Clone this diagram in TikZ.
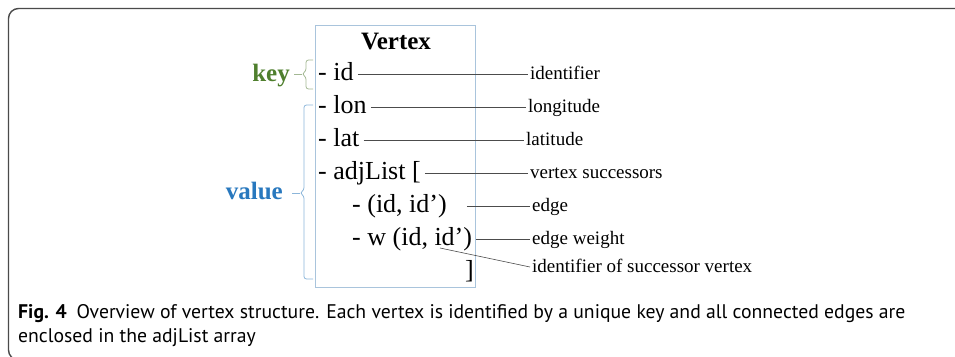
\documentclass[tikz,border=0pt]{standalone}
\usepackage{fontspec}
\setmainfont{Liberation Serif}
\newfontfamily\capfont{PT Sans}

\definecolor{framegray}{HTML}{4A4A4A}
\definecolor{boxblue}{HTML}{A9C4DC}
\definecolor{keygreen}{HTML}{4F7F2E}
\definecolor{keybrace}{HTML}{A3B893}
\definecolor{valblue}{HTML}{2878BE}
\definecolor{valbrace}{HTML}{8CB6DA}

\tikzset{
	field/.style = {anchor=base west, inner sep=0pt, text height=12pt, text depth=0pt, font=\fontsize{26}{26}\selectfont},
	note/.style = {anchor=west, inner xsep=2pt, inner ysep=0pt, text height=10pt, text depth=0pt, font=\fontsize{19}{19}\selectfont},
	pointer/.style = {black!70, line width=0.6pt, shorten <=4pt},
	tag/.style = {anchor=base east, inner sep=0pt, font=\fontsize{25}{25}\selectfont\bfseries},
}

\begin{document}
\begin{tikzpicture}[x=1pt, y=-1pt]
	\useasboundingbox (0,0) rectangle (955,356);
	
	% outer frame, open on the right and at the bottom
	\draw[framegray, line width=1.4pt, rounded corners=10pt] (965,8.5) -- (8.5,8.5) -- (8.5,360) -- (40,360);
	
	% the record box
	\draw[boxblue, line width=0.8pt] (315,25) rectangle (475,287);
	\node[anchor=base, inner sep=0pt, font=\fontsize{25}{25}\selectfont\bfseries] (title) at (396,49) {Vertex};
	
	\node[field] (id)   at (318,80)  {- id};
	\node[field] (lon)  at (318,113) {- lon};
	\node[field] (lat)  at (318,146) {- lat};
	\node[field] (adj)  at (318,179) {- adjList [};
	\node[field] (edge) at (352,212) {- (id, id')};
	\node[field] (wt)   at (352,245) {- w (id, id')};
	\node[field] (close) at (465,278) {]};
	\coordinate (succ) at (440,248);
	
	% descriptions on the right
	\node[note] (identifier) at (528,74)  {identifier};
	\node[note] (longitude)  at (526,107) {longitude};
	\node[note] (latitude)   at (524,140) {latitude};
	\node[note] (successors) at (528,173) {vertex successors};
	\node[note] (edgenote)   at (530,206) {edge};
	\node[note] (weight)     at (530,239) {edge weight};
	\node[note] (succnote)   at (530,267) {identifier of successor vertex};
	
	\draw[pointer] (id.east) -- (identifier.west);
	\draw[pointer] (lon.east) -- (longitude.west);
	\draw[pointer] (lat.east) -- (latitude.west);
	\draw[pointer] (adj.east) -- (successors.west);
	\draw[pointer, shorten <=20pt] (edge.east) -- (edgenote.west);
	\draw[pointer] (wt.east) -- (weight.west);
	\draw[pointer, shorten <=0pt] (succ) -- (succnote.west);
	
	% key / value braces
	\node[tag, keygreen] (key) at (290,81) {key};
	\draw[keybrace, line width=0.8pt, rounded corners=2.5pt] (313,60) -- (306,60) -- (306,71) -- (302,74) -- (306,77) -- (306,89) -- (313,89);
	\draw[keybrace, line width=0.8pt] (302,74) -- ([xshift=4pt]key.east |- 0,74);
	
	\node[tag, valblue] (value) at (283,199) {value};
	\draw[valbrace, line width=0.8pt, rounded corners=2.5pt] (313,105) -- (304,105) -- (304,190) -- (300,193) -- (304,196) -- (304,279) -- (313,279);
	\draw[valbrace, line width=0.8pt] (300,193) -- ([xshift=9pt]value.east |- 0,193);
	
	% caption
	\node[anchor=base west, inner sep=0pt, font=\capfont\fontsize{19.7}{24}\selectfont] (cap1) at (18,318)
		{\textbf{Fig. 4}\hspace{0.5em}Overview of vertex structure. Each vertex is identified by a unique key and all connected edges are};
	\node[anchor=base west, inner sep=0pt, font=\capfont\fontsize{19.7}{24}\selectfont] (cap2) at (18,342)
		{enclosed in the adjList array};
\end{tikzpicture}
\end{document}
